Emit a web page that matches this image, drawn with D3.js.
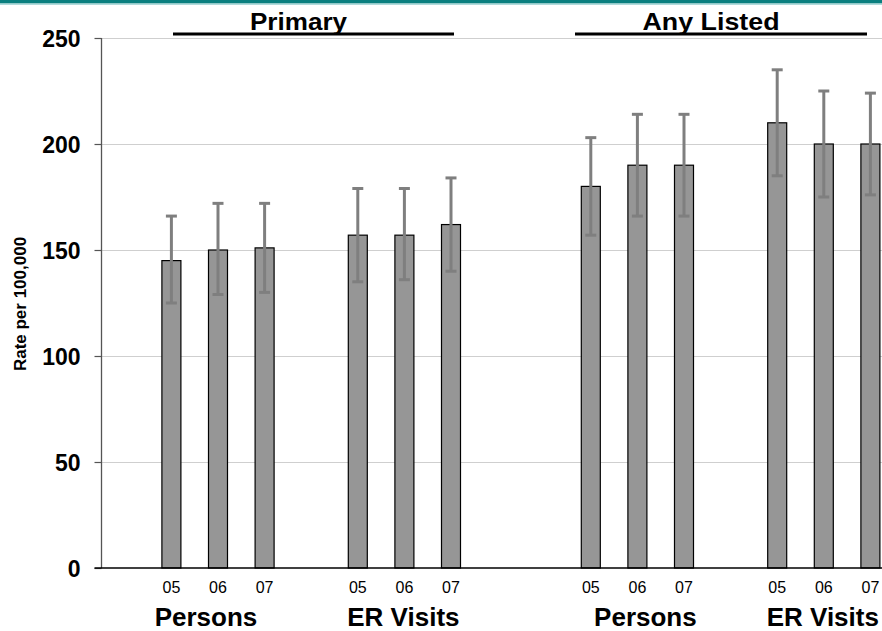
<!DOCTYPE html>
<html>
<head>
<meta charset="utf-8">
<script src="https://cdn.jsdelivr.net/npm/d3@7"></script>
<style>
  html, body { margin: 0; padding: 0; background: #fff; }
  svg { display: block; font-family: "Liberation Sans", Arial, sans-serif; }
</style>
</head>
<body>
<svg id="chart" width="882" height="631"></svg>
<script>
// Rates per 100,000 by year, with confidence limits
const groups = ["Primary", "Any Listed"];
const measures = ["Persons", "ER Visits"];
const years = ["05", "06", "07"];

const primaryPersons      = [145, 150, 151];
const primaryPersonsLow   = [125, 129, 130];
const primaryPersonsHigh  = [166, 172, 172];

const primaryVisits       = [157, 157, 162];
const primaryVisitsLow    = [135, 136, 140];
const primaryVisitsHigh   = [179, 179, 184];

const anyPersons          = [180, 190, 190];
const anyPersonsLow       = [157, 166, 166];
const anyPersonsHigh      = [203, 214, 214];

const anyVisits           = [210, 200, 200];
const anyVisitsLow        = [185, 175, 176];
const anyVisitsHigh       = [235, 225, 224];

const yTicks = [0, 50, 100, 150, 200, 250];

const seriesTable = {
  "Primary|Persons":      [primaryPersons, primaryPersonsLow, primaryPersonsHigh],
  "Primary|ER Visits":    [primaryVisits, primaryVisitsLow, primaryVisitsHigh],
  "Any Listed|Persons":   [anyPersons, anyPersonsLow, anyPersonsHigh],
  "Any Listed|ER Visits": [anyVisits, anyVisitsLow, anyVisitsHigh]
};

// Slot sequence: one blank before each measure block, an extra blank between groups
const slots = [];
const rows = [];
let blank = 0;
groups.forEach((g, gi) => {
  if (gi > 0) slots.push("_" + (blank++));
  measures.forEach(m => {
    slots.push("_" + (blank++));
    const [vals, lo, hi] = seriesTable[g + "|" + m];
    years.forEach((yr, i) => {
      const key = g + "|" + m + "|" + yr;
      slots.push(key);
      rows.push({ key, group: g, measure: m, year: yr, value: vals[i], low: lo[i], high: hi[i] });
    });
  });
});

const svg = d3.select("#chart");
const W = 882, H = 631;
const plotLeft = 101.5, plotTop = 38, plotBottom = 568;
const step = 46.6;

const x = d3.scaleBand().domain(slots).range([plotLeft, plotLeft + step * slots.length]).padding(0);
const y = d3.scaleLinear().domain([0, 250]).range([plotBottom, plotTop]);
const barW = 19;
const cx = k => x(k) + x.bandwidth() / 2;

// Top banner
svg.append("rect").attr("x", 0).attr("y", 0).attr("width", W).attr("height", 3.5).attr("fill", "#0a7f7f");
svg.append("rect").attr("x", 0).attr("y", 3.5).attr("width", W).attr("height", 1.3).attr("fill", "#9fd3d3");

// Gridlines
svg.append("g").selectAll("line").data(yTicks.filter(t => t > 0)).join("line")
  .attr("x1", plotLeft).attr("x2", W)
  .attr("y1", d => y(d) + 0.5).attr("y2", d => y(d) + 0.5)
  .attr("stroke", "#cfcfcf").attr("stroke-width", 1.2);

// Y axis
const yAxis = d3.axisLeft(y).tickValues(yTicks).tickSize(7).tickPadding(14).tickFormat(d3.format("d"));
const yg = svg.append("g").attr("transform", `translate(${plotLeft},0)`).call(yAxis);
yg.select(".domain").attr("stroke", "#555").attr("stroke-width", 1.3).attr("d", `M0,${y(250)}V${y(0)}`);
yg.selectAll(".tick line").attr("stroke", "#555").attr("stroke-width", 1.2);
yg.selectAll(".tick text")
  .attr("fill", "#000").attr("font-size", 23).attr("font-weight", "bold")
  .attr("font-family", "'Liberation Sans', Arial, sans-serif")
  .attr("dy", "0.36em");

// Y axis title
svg.append("text")
  .attr("transform", `translate(26,304) rotate(-90)`)
  .attr("text-anchor", "middle")
  .attr("font-size", 17).attr("font-weight", "bold")
  .text("Rate per 100,000");

// Bars
svg.append("g").selectAll("rect").data(rows).join("rect")
  .attr("x", d => cx(d.key) - barW / 2)
  .attr("width", barW)
  .attr("y", d => y(d.value))
  .attr("height", d => y(0) - y(d.value))
  .attr("fill", "#969696")
  .attr("stroke", "#000").attr("stroke-width", 1.2);

// Error bars
const eb = svg.append("g").attr("stroke", "#7f7f7f").attr("stroke-width", 3);
eb.selectAll("line.v").data(rows).join("line").attr("class", "v")
  .attr("x1", d => cx(d.key)).attr("x2", d => cx(d.key))
  .attr("y1", d => y(d.high)).attr("y2", d => y(d.low));
eb.selectAll("line.hi").data(rows).join("line").attr("class", "hi")
  .attr("x1", d => cx(d.key) - 5.5).attr("x2", d => cx(d.key) + 5.5)
  .attr("y1", d => y(d.high)).attr("y2", d => y(d.high));
eb.selectAll("line.lo").data(rows).join("line").attr("class", "lo")
  .attr("x1", d => cx(d.key) - 5.5).attr("x2", d => cx(d.key) + 5.5)
  .attr("y1", d => y(d.low)).attr("y2", d => y(d.low));

// X baseline
svg.append("line").attr("x1", plotLeft - 7).attr("x2", W)
  .attr("y1", y(0)).attr("y2", y(0)).attr("stroke", "#000").attr("stroke-width", 1.5);

// Year labels
svg.append("g").selectAll("text").data(rows).join("text")
  .attr("x", d => cx(d.key)).attr("y", 593)
  .attr("text-anchor", "middle").attr("font-size", 16)
  .text(d => d.year);

// Measure labels under each block of three years (small nudges keep them clear of neighbours)
const labelNudge = [-12, -1, 8, -1];
const blocks = [];
groups.forEach(g => measures.forEach(m => {
  const keys = years.map(yr => g + "|" + m + "|" + yr);
  blocks.push({ label: m, center: (cx(keys[0]) + cx(keys[2])) / 2 + labelNudge[blocks.length] });
}));
svg.append("g").selectAll("text").data(blocks).join("text")
  .attr("x", d => d.center).attr("y", 626)
  .attr("text-anchor", "middle").attr("font-size", 26).attr("font-weight", "bold")
  .text(d => d.label);

// Group headers with rule beneath
const headers = [
  { label: groups[0], x1: 173, x2: 454, tx: 298.5, tw: 97 },
  { label: groups[1], x1: 575, x2: 867, tx: 711, tw: 137 }
];
const hg = svg.append("g");
hg.selectAll("line").data(headers).join("line")
  .attr("x1", d => d.x1).attr("x2", d => d.x2)
  .attr("y1", 34).attr("y2", 34)
  .attr("stroke", "#000").attr("stroke-width", 3);
hg.selectAll("text").data(headers).join("text")
  .attr("x", d => d.tx).attr("y", 30)
  .attr("text-anchor", "middle").attr("font-size", 24).attr("font-weight", "bold")
  .attr("textLength", d => d.tw).attr("lengthAdjust", "spacingAndGlyphs")
  .text(d => d.label);
</script>
</body>
</html>
